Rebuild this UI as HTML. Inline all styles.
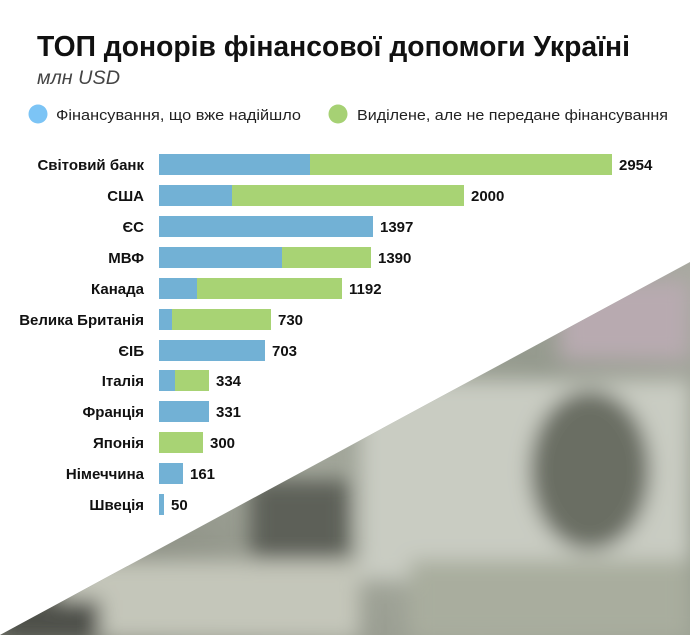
<!DOCTYPE html>
<html><head><meta charset="utf-8"><style>
html,body{margin:0;padding:0;background:#fff;}
svg{display:block;font-family:"Liberation Sans",sans-serif;}
</style></head><body>
<svg width="690" height="635" viewBox="0 0 690 635" xmlns="http://www.w3.org/2000/svg">
<defs>
<linearGradient id="g1" x1="0" y1="1" x2="1" y2="0">
<stop offset="0" stop-color="#7a7d72"/>
<stop offset="0.35" stop-color="#a3a79b"/>
<stop offset="0.6" stop-color="#959a8e"/>
<stop offset="1" stop-color="#bdbab4"/>
</linearGradient>
<clipPath id="tri"><polygon points="690,262 690,635 0,635"/></clipPath>
<filter id="bl"><feGaussianBlur stdDeviation="10"/></filter>
</defs>
<rect width="690" height="635" fill="#fff"/>
<g clip-path="url(#tri)">
<rect width="690" height="635" fill="url(#g1)"/>
<g filter="url(#bl)">
<rect x="360" y="380" width="330" height="200" fill="#c9ccc2"/>
<ellipse cx="590" cy="470" rx="60" ry="80" fill="#6a6e64"/>
<rect x="410" y="560" width="280" height="80" fill="#a9ad9e"/>
<rect x="60" y="560" width="300" height="80" fill="#c4c6ba"/>
<rect x="0" y="600" width="100" height="40" fill="#4d4f48"/>
<rect x="250" y="480" width="100" height="80" fill="#5d6058"/>
<rect x="560" y="280" width="130" height="80" fill="#b8aab0"/>
</g>
</g>
<text x="37" y="56" font-size="29" font-weight="bold" fill="#111" textLength="593" lengthAdjust="spacingAndGlyphs">ТОП донорів фінансової допомоги Україні</text>
<text x="37" y="84" font-size="19" font-style="italic" fill="#444" textLength="83" lengthAdjust="spacingAndGlyphs">млн USD</text>
<circle cx="38" cy="114" r="9.5" fill="#7cc4f5"/>
<text x="56" y="120" font-size="15" fill="#222" textLength="245" lengthAdjust="spacingAndGlyphs">Фінансування, що вже надійшло</text>
<circle cx="338" cy="114" r="9.5" fill="#a6d174"/>
<text x="357" y="120" font-size="15" fill="#222" textLength="311" lengthAdjust="spacingAndGlyphs">Виділене, але не передане фінансування</text>
<g font-size="15" fill="#111">
<g text-anchor="end" font-weight="bold">
<text x="144" y="170">Світовий банк</text>
<text x="144" y="201">США</text>
<text x="144" y="232">ЄС</text>
<text x="144" y="263">МВФ</text>
<text x="144" y="294">Канада</text>
<text x="144" y="325">Велика Британія</text>
<text x="144" y="356">ЄІБ</text>
<text x="144" y="386">Італія</text>
<text x="144" y="417">Франція</text>
<text x="144" y="448">Японія</text>
<text x="144" y="479">Німеччина</text>
<text x="144" y="510">Швеція</text>
</g>
<g fill="#72b1d5">
<rect x="159" y="154" width="151" height="21"/>
<rect x="159" y="185" width="73" height="21"/>
<rect x="159" y="216" width="214" height="21"/>
<rect x="159" y="247" width="123" height="21"/>
<rect x="159" y="278" width="38" height="21"/>
<rect x="159" y="309" width="13" height="21"/>
<rect x="159" y="340" width="106" height="21"/>
<rect x="159" y="370" width="16" height="21"/>
<rect x="159" y="401" width="50" height="21"/>
<rect x="159" y="463" width="24" height="21"/>
<rect x="159" y="494" width="5" height="21"/>
</g>
<g fill="#a8d374">
<rect x="310" y="154" width="302" height="21"/>
<rect x="232" y="185" width="232" height="21"/>
<rect x="282" y="247" width="89" height="21"/>
<rect x="197" y="278" width="145" height="21"/>
<rect x="172" y="309" width="99" height="21"/>
<rect x="175" y="370" width="34" height="21"/>
<rect x="159" y="432" width="44" height="21"/>
</g>
<g font-weight="bold">
<text x="619" y="170">2954</text>
<text x="471" y="201">2000</text>
<text x="380" y="232">1397</text>
<text x="378" y="263">1390</text>
<text x="349" y="294">1192</text>
<text x="278" y="325">730</text>
<text x="272" y="356">703</text>
<text x="216" y="386">334</text>
<text x="216" y="417">331</text>
<text x="210" y="448">300</text>
<text x="190" y="479">161</text>
<text x="171" y="510">50</text>
</g>
</g>
</svg>
</body></html>
